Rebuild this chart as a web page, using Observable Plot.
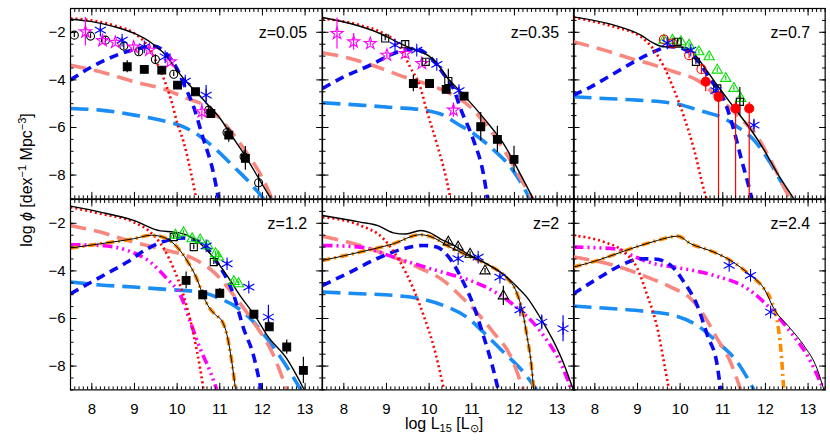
<!DOCTYPE html>
<html><head><meta charset="utf-8">
<script src="https://cdn.jsdelivr.net/npm/d3@7"></script>
<script src="https://cdn.jsdelivr.net/npm/@observablehq/plot@0.6"></script>
<style>
body{margin:0;background:#fff;font-family:"Liberation Sans",Arial,sans-serif;}
#chart{position:relative;width:830px;height:443px;overflow:hidden;background:#fff;}
#chart svg{position:absolute;overflow:visible;}
.title{position:absolute;font-size:16px;white-space:nowrap;color:#000;}
.title sub{font-size:11px;vertical-align:-3px;}
.title sup{font-size:11px;vertical-align:6px;}
</style></head><body><div id="chart"></div>
<script>
// ---------- labels / ticks ----------
const LABELS = ["z=0.05", "z=0.35", "z=0.7", "z=1.2", "z=2", "z=2.4"];
const X_TICKS = [8, 9, 10, 11, 12, 13];
const Y_TICKS = [-8, -6, -4, -2];
const X_DOMAIN = [7.5, 13.4];
const Y_DOMAIN = [-9, -1];

// ---------- z = 0.05 ----------
const tot_z005 = [[7.5,-1.45],[8.0,-1.55],[8.5,-1.75],[9.0,-2.05],[9.4,-2.45],[9.7,-2.9],[10.0,-3.6],[10.2,-4.05],[10.5,-4.6],[10.7,-5.0],[11.0,-5.6],[11.3,-6.4],[11.6,-7.2],[11.9,-8.1],[12.2,-9.0]];
const red_z005 = [[7.5,-1.42],[8.0,-1.5],[8.5,-1.7],[9.0,-2.05],[9.3,-2.55],[9.5,-3.2],[9.75,-4.25],[9.9,-5.1],[10.0,-5.8],[10.15,-6.6],[10.3,-7.7],[10.45,-9.0]];
const blue_z005 = [[7.5,-4.0],[8.0,-3.45],[8.6,-2.95],[9.1,-2.68],[9.45,-2.58],[9.75,-2.9],[10.0,-3.55],[10.15,-4.15],[10.4,-5.2],[10.6,-6.4],[10.85,-7.9],[10.97,-9.0]];
const sal_z005 = [[7.5,-3.38],[8.2,-3.66],[9.0,-4.08],[9.76,-4.43],[10.23,-4.78],[10.7,-5.13],[11.17,-5.97],[11.64,-7.09],[12.1,-8.49],[12.22,-9.0]];
const lb_z005 = [[7.5,-5.2],[8.2,-5.27],[9.0,-5.48],[9.6,-5.69],[10.15,-5.97],[10.55,-6.39],[10.93,-6.95],[11.33,-7.65],[11.72,-8.35],[12.03,-9.0]];
const oc_z005 = [[7.59,-2.12,0.1],[7.97,-2.16,0.1],[8.32,-2.33,0.12],[8.75,-2.58,0.15],[9.1,-2.82,0.15],[9.49,-3.14,0.2],[9.92,-3.76,0.1],[10.74,-5.27,0.15],[11.17,-6.21,0.2],[11.57,-7.23,0.25],[11.91,-8.32,0.35]];
const st_z005 = [[7.85,-1.98,0.6],[8.25,-2.35,0.15],[8.55,-2.42,0.1],[8.98,-2.62,0.1],[9.35,-2.75,0.1],[9.84,-3.24,0.1],[10.58,-5.34,0.35]];
const as_z005 = [[8.2,-1.91,0.1],[8.71,-2.33,0.1],[9.23,-2.61,0.1],[9.72,-3.03,0.1],[10.19,-4.05,0.15],[10.68,-4.64,0.4]];
const sq_z005 = [[8.83,-3.45,0.25],[9.23,-3.56,0.15],[9.64,-3.59,0.15],[10.01,-4.22,0.12],[10.43,-4.5,0.12],[10.79,-5.41,0.2],[11.21,-6.32,0.3],[11.6,-7.3,0.5]];

// ---------- z = 0.35 ----------
const tot_z035 = [[7.5,-1.38],[8.15,-1.63],[8.85,-2.05],[9.24,-2.4],[9.63,-2.72],[10.0,-3.0],[10.2,-3.35],[10.41,-3.87],[10.8,-4.62],[11.3,-5.65],[11.74,-6.67],[12.13,-7.93],[12.44,-9.0]];
const red_z035 = [[7.5,-1.42],[8.38,-1.7],[8.93,-2.05],[9.32,-2.61],[9.55,-3.45],[9.79,-4.29],[9.94,-5.27],[10.18,-6.67],[10.41,-8.21],[10.5,-9.0]];
const blue_z035 = [[7.5,-4.36],[8.0,-3.87],[8.62,-3.38],[9.08,-2.96],[9.4,-2.75],[9.7,-2.7],[10.0,-3.0],[10.33,-3.73],[10.6,-4.5],[10.72,-5.13],[11.04,-6.53],[11.27,-7.93],[11.37,-9.0]];
const sal_z035 = [[7.5,-2.86],[8.15,-3.1],[8.77,-3.45],[9.4,-3.87],[10.02,-4.22],[10.49,-4.57],[10.96,-5.13],[11.43,-6.11],[11.9,-7.37],[12.21,-8.35],[12.43,-9.0]];
const lb_z035 = [[7.5,-4.96],[8.38,-5.06],[9.16,-5.16],[9.87,-5.27],[10.33,-5.48],[10.65,-5.83],[11.04,-6.25],[11.43,-6.81],[11.9,-7.65],[12.21,-8.49],[12.36,-9.0]];
const st_z035 = [[7.84,-2.05,0.65],[8.23,-2.4,0.35],[8.62,-2.47,0.1],[9.01,-2.96,0.1],[9.44,-2.89,0.1],[9.83,-3.31,0.1],[10.57,-5.27,0.3]];
const osq_z035 = [[8.97,-2.26,0.1],[9.44,-2.5,0.1],[9.92,-3.24,0.1],[10.45,-4.05,0.5]];
const as_z035 = [[9.2,-2.54,0.1],[9.71,-2.75,0.1],[10.18,-3.35,0.1],[10.7,-4.45,0.15]];
const sq_z035 = [[9.63,-4.15,0.35],[10.01,-4.15,0.15],[10.4,-4.4,0.15],[10.82,-4.68,0.1],[11.21,-5.97,0.6],[11.6,-6.5,0.55],[11.99,-7.34,0.55]];

// ---------- z = 0.7 ----------
const tot_z07 = [[7.5,-1.35],[8.45,-1.7],[9.08,-2.12],[9.39,-2.47],[9.62,-2.61],[10.01,-2.62],[10.3,-2.85],[10.6,-3.55],[10.9,-4.3],[11.28,-5.2],[11.7,-6.2],[11.97,-6.95],[12.28,-7.93],[12.67,-9.0]];
const red_z07 = [[7.5,-1.38],[8.45,-1.77],[9.08,-2.19],[9.39,-2.75],[9.62,-3.45],[9.86,-4.43],[10.09,-5.55],[10.33,-6.95],[10.56,-8.63],[10.62,-9.0]];
const blue_z07 = [[7.5,-4.64],[7.91,-4.29],[8.45,-3.73],[8.99,-3.17],[9.47,-2.75],[9.7,-2.6],[10.01,-2.65],[10.4,-3.17],[10.72,-4.01],[11.03,-4.85],[11.26,-6.11],[11.42,-7.23],[11.65,-8.77],[11.68,-9.0]];
const sal_z07 = [[7.5,-2.4],[8.22,-2.75],[8.84,-3.1],[9.39,-3.38],[9.86,-3.66],[10.4,-4.01],[10.87,-4.71],[11.34,-5.48],[11.81,-6.39],[12.2,-7.65],[12.51,-8.77],[12.58,-9.0]];
const lb_z07 = [[7.5,-4.71],[8.22,-4.78],[8.99,-4.85],[9.86,-4.99],[10.56,-5.34],[10.95,-5.55],[11.34,-5.97],[11.73,-6.53],[12.12,-7.51],[12.43,-8.49],[12.59,-9.0]];
const gt_z07 = [[9.62,-2.33,0.1],[9.82,-2.33,0.1],[10.02,-2.4,0.1],[10.21,-2.54,0.1],[10.44,-2.82,0.1],[10.68,-3.03,0.1],[10.87,-3.59,0.1],[11.07,-3.94,0.1],[11.26,-4.36,0.1],[11.42,-4.78,0.1]];
const roc_z07 = [[9.62,-2.3,0.1],[9.82,-2.47,0.1],[10.21,-2.96,0.15],[10.5,-3.55,0.2]];
const rfc_z07 = [[10.6,-4.08,-4.5,-3.8],[10.9,-4.72,-9.5,-4.45],[11.3,-5.2,-9.5,-4.95],[11.62,-5.2,-9.5,-4.95]];
const osq_z07 = [[9.94,-2.4,0.1],[10.37,-3.24,0.1],[10.87,-4.36,0.1],[11.4,-4.92,0.6]];
const as_z07 = [[9.7,-2.45,0.1],[10.25,-2.75,0.1],[10.84,-4.45,0.15],[11.73,-5.9,0.2]];

// ---------- z = 1.2 ----------
const tot_z12 = [[7.5,-1.28],[8.2,-1.53],[8.98,-1.88],[9.61,-2.32],[9.92,-2.37],[10.23,-2.5],[10.54,-2.85],[10.86,-3.45],[11.17,-4.2],[11.5,-5.1],[11.85,-5.95],[12.11,-6.71],[12.57,-7.69],[12.98,-9.0]];
const red_z12 = [[7.5,-1.32],[8.2,-1.6],[8.98,-1.95],[9.37,-2.37],[9.69,-3.07],[9.92,-3.91],[10.15,-5.03],[10.39,-6.71],[10.54,-8.11],[10.62,-9.0]];
const sal_z12 = [[7.5,-2.09],[8.2,-2.37],[8.98,-2.79],[9.76,-3.14],[10.39,-3.49],[10.86,-4.05],[11.33,-5.03],[11.79,-6.15],[12.26,-7.55],[12.57,-9.0]];
const blue_z12 = [[7.5,-4.96],[8.2,-4.26],[8.83,-3.63],[9.3,-3.07],[9.76,-2.72],[10.15,-2.62],[10.54,-2.79],[10.93,-3.63],[11.33,-5.03],[11.56,-6.43],[11.79,-7.55],[11.97,-9.0]];
const lb_z12 = [[7.5,-4.47],[8.2,-4.59],[8.98,-4.68],[9.76,-4.78],[10.54,-4.89],[11.01,-5.17],[11.33,-5.45],[11.72,-6.01],[12.11,-6.85],[12.5,-7.83],[12.9,-9.0]];
const mag_z12 = [[7.5,-2.9],[8.2,-2.93],[8.83,-3.14],[9.37,-3.63],[9.76,-4.33],[10.08,-5.03],[10.31,-6.15],[10.54,-7.27],[10.78,-8.25],[10.93,-9.0]];
const org_z12 = [[7.5,-3.04],[8.2,-2.86],[8.98,-2.65],[9.4,-2.5],[9.7,-2.6],[10.0,-3.0],[10.23,-3.56],[10.5,-4.5],[10.6,-5.0],[10.72,-5.45],[10.9,-5.85],[11.05,-6.1],[11.17,-6.7],[11.28,-7.8],[11.37,-9.0]];
const gt_z12 = [[9.96,-2.5,0.1],[10.15,-2.4,0.1],[10.35,-2.65,0.1],[10.54,-2.7,0.1],[10.72,-2.95,0.1],[10.9,-3.28,0.1],[10.97,-3.42,0.1],[11.33,-4.45,0.1],[11.44,-4.54,0.1]];
const osq_z12 = [[9.92,-2.58,0.1],[10.39,-3.0,0.1],[10.86,-3.63,0.1]];
const as_z12 = [[10.68,-2.95,0.1],[11.17,-3.7,0.1],[11.68,-4.68,0.1],[12.14,-5.94,0.5]];
const sq_z12 = [[10.21,-4.4,0.35],[10.6,-5.0,0.2],[11.0,-4.94,0.2],[11.8,-5.82,0.15],[12.16,-6.35,0.2],[12.57,-7.2,0.3],[12.96,-8.18,0.55]];

// ---------- z = 2 ----------
const tot_z2 = [[7.5,-1.67],[8.38,-1.95],[8.8,-2.1],[9.16,-2.4],[9.45,-2.45],[9.8,-2.3],[10.0,-2.38],[10.26,-2.65],[10.6,-2.95],[10.96,-3.35],[11.35,-3.7],[11.82,-4.26],[12.05,-4.65],[12.29,-5.1],[12.6,-5.95],[12.9,-6.9],[13.14,-7.83],[13.38,-9.0]];
const red_z2 = [[7.5,-1.74],[8.38,-2.09],[8.93,-2.65],[9.32,-3.63],[9.63,-4.75],[9.87,-5.87],[10.1,-7.13],[10.35,-9.0]];
const org_z2 = [[7.5,-3.56],[8.38,-3.21],[9.16,-2.86],[9.79,-2.48],[10.02,-2.55],[10.49,-3.0],[10.96,-3.4],[11.35,-3.72],[11.82,-4.3],[12.05,-4.9],[12.2,-5.8],[12.3,-6.8],[12.4,-8.0],[12.45,-9.0]];
const mag_z2 = [[7.5,-2.93],[8.38,-3.0],[9.16,-3.42],[9.9,-3.84],[10.5,-4.15],[10.96,-4.4],[11.35,-4.7],[11.74,-5.1],[12.13,-5.66],[12.4,-6.1],[12.68,-6.71],[13.07,-7.83],[13.34,-9.0]];
const sal_z2 = [[7.5,-2.54],[8.38,-2.93],[9.16,-3.42],[9.8,-3.9],[10.33,-4.4],[10.72,-5.03],[11.11,-5.73],[11.5,-6.57],[11.9,-7.55],[12.21,-9.0]];
const blue_z2 = [[7.5,-4.61],[8.15,-4.05],[8.77,-3.49],[9.4,-3.07],[9.87,-2.93],[10.18,-3.0],[10.49,-3.49],[10.8,-4.47],[11.04,-5.45],[11.27,-6.71],[11.5,-8.11],[11.62,-9.0]];
const lb_z2 = [[7.5,-4.89],[8.38,-4.96],[9.16,-5.03],[9.79,-5.17],[10.33,-5.45],[10.88,-5.94],[11.27,-6.57],[11.74,-7.41],[12.21,-8.25],[12.52,-9.0]];
const bt_z2 = [[10.45,-2.79,0.1],[10.68,-3.0,0.1],[10.96,-3.3,0.1],[11.31,-4.0,0.1],[11.74,-5.05,0.4]];
const as_z2 = [[10.68,-3.49,0.1],[11.15,-3.42,0.1],[11.66,-4.26,0.1],[12.13,-5.64,0.15],[12.64,-6.15,0.3],[13.14,-6.43,0.55]];

// ---------- z = 2.4 ----------
const agn_z24 = [[7.5,-3.84],[8.06,-3.56],[8.84,-3.07],[9.47,-2.72],[9.94,-2.54],[10.25,-2.86],[10.79,-3.21],[11.18,-3.56],[11.65,-4.19],[11.97,-4.75],[12.2,-5.59],[12.59,-6.43],[12.9,-7.13],[13.21,-8.11],[13.37,-9.0]];
const org_z24 = [[7.5,-3.84],[8.06,-3.56],[8.84,-3.07],[9.47,-2.72],[9.94,-2.54],[10.25,-2.86],[10.79,-3.21],[11.18,-3.56],[11.65,-4.19],[11.97,-4.75],[12.15,-5.3],[12.28,-6.15],[12.36,-7.27],[12.43,-9.0]];
const mag_z24 = [[7.5,-3.0],[8.45,-3.07],[9.0,-3.45],[9.4,-3.7],[9.86,-3.84],[10.79,-4.19],[11.58,-4.75],[12.12,-5.59],[12.59,-6.57],[12.98,-7.55],[13.37,-9.0]];
const red_z24 = [[7.5,-2.51],[8.22,-2.79],[8.69,-3.21],[9.0,-3.91],[9.23,-5.03],[9.47,-6.43],[9.62,-7.83],[9.74,-9.0]];
const sal_z24 = [[7.5,-3.42],[8.45,-3.77],[9.23,-4.26],[9.78,-4.68],[10.25,-5.17],[10.56,-5.87],[10.87,-6.85],[11.18,-7.83],[11.42,-9.0]];
const blue_z24 = [[7.5,-4.96],[8.06,-4.33],[8.61,-3.77],[9.08,-3.49],[9.4,-3.5],[9.78,-3.77],[10.09,-4.47],[10.4,-5.45],[10.64,-6.71],[10.87,-7.97],[10.95,-9.0]];
const lb_z24 = [[7.5,-5.48],[8.45,-5.59],[9.23,-5.71],[9.86,-5.87],[10.4,-6.29],[10.87,-6.99],[11.34,-7.83],[11.73,-9.0]];
const as_z24 = [[11.15,-3.77,0.05],[11.65,-4.19,0.05],[12.12,-5.73,0.15]];

// ---------- styles ----------
const LINE = {
  tot:  {stroke: "#000", strokeWidth: 1.4},
  thin: {stroke: "#000", strokeWidth: 1},
  red:  {stroke: "#ff0000", strokeWidth: 2.6, strokeDasharray: "2,3"},
  blue: {stroke: "#0a0af5", strokeWidth: 3.6, strokeDasharray: "9,6"},
  sal:  {stroke: "#f7877f", strokeWidth: 3.6, strokeDasharray: "16,8"},
  lb:   {stroke: "#1a8cf5", strokeWidth: 3.6, strokeDasharray: "18,8"},
  mag:  {stroke: "#ff00ff", strokeWidth: 3.6, strokeDasharray: "10,4,2,4,2,4,2,4"},
  org:  {stroke: "#ff8c00", strokeWidth: 3.6, strokeDasharray: "8,4,2,4"}
};
const MARK = {
  sq:  {symbol: "square", r: 4.4, fill: "#000", stroke: "#000"},
  osq: {symbol: "square", r: 4, fill: "none", stroke: "#000"},
  oc:  {symbol: "circle", r: 4, fill: "none", stroke: "#000"},
  st:  {symbol: "star", r: 3.8, fill: "none", stroke: "#ff00ff"},
  as:  {symbol: "asterisk", r: 6, fill: "none", stroke: "#0000ff"},
  gt:  {symbol: "triangle", r: 3.8, fill: "none", stroke: "#00e000"},
  bt:  {symbol: "triangle", r: 3.8, fill: "none", stroke: "#000"},
  roc: {symbol: "circle", r: 4.5, fill: "none", stroke: "#ff0000"},
  rfc: {symbol: "circle", r: 4.5, fill: "#ff0000", stroke: "#ff0000"}
};

const PANELS = [
  {lines: [["lb", lb_z005], ["sal", sal_z005], ["blue", blue_z005], ["red", red_z005], ["tot", tot_z005]],
   pts: [["oc", oc_z005], ["st", st_z005], ["as", as_z005], ["sq", sq_z005]]},
  {lines: [["lb", lb_z035], ["sal", sal_z035], ["blue", blue_z035], ["red", red_z035], ["tot", tot_z035]],
   pts: [["st", st_z035], ["osq", osq_z035], ["as", as_z035], ["sq", sq_z035]]},
  {lines: [["lb", lb_z07], ["sal", sal_z07], ["blue", blue_z07], ["red", red_z07], ["tot", tot_z07]],
   pts: [["gt", gt_z07], ["roc", roc_z07], ["osq", osq_z07], ["as", as_z07], ["rfc", rfc_z07]]},
  {lines: [["lb", lb_z12], ["sal", sal_z12], ["mag", mag_z12], ["blue", blue_z12], ["red", red_z12], ["org", org_z12], ["thin", org_z12], ["tot", tot_z12]],
   pts: [["osq", osq_z12], ["gt", gt_z12], ["as", as_z12], ["sq", sq_z12]]},
  {lines: [["lb", lb_z2], ["sal", sal_z2], ["mag", mag_z2], ["blue", blue_z2], ["red", red_z2], ["org", org_z2], ["thin", org_z2], ["tot", tot_z2]],
   pts: [["bt", bt_z2], ["as", as_z2]]},
  {lines: [["lb", lb_z24], ["sal", sal_z24], ["mag", mag_z24], ["blue", blue_z24], ["red", red_z24], ["org", org_z24], ["thin", agn_z24]],
   pts: [["as", as_z24]]}
];

const X_MINOR = d3.range(75, 135).map(v => v / 10);
const Y_MINOR = d3.range(-18, -1).map(v => v / 2);

const chart = document.getElementById("chart");
const W = 251.67, H = 190.4, L0 = 70, T0 = 8.3;
const M = {l: 45, r: 12, t: 12, b: 45};

function axes(row, col) {
  const m = [];
  const ts = {stroke: "#000", strokeWidth: 1, fill: "none", label: null, tickFormat: () => ""};
  for (const anchor of ["bottom", "top"]) {
    m.push(Plot.axisX(X_MINOR, {anchor, tickSize: -3, ...ts}));
    m.push(Plot.axisX(X_TICKS, {anchor, tickSize: -6.5, ...ts}));
  }
  for (const anchor of ["left", "right"]) {
    m.push(Plot.axisY(Y_MINOR, {anchor, tickSize: -3.5, ...ts}));
    m.push(Plot.axisY(Y_TICKS, {anchor, tickSize: -6.5, ...ts}));
  }
  if (row === 1) m.push(Plot.axisX(X_TICKS, {anchor: "bottom", tickSize: 0, tickPadding: 13, label: null, fontSize: 15}));
  if (col === 0) m.push(Plot.axisY(Y_TICKS, {anchor: "left", tickSize: 0, tickPadding: 5, label: null, fontSize: 15}));
  return m;
}

PANELS.forEach((p, i) => {
  const row = Math.floor(i / 3), col = i % 3;
  const marks = [];
  for (const [k, data] of p.lines) {
    marks.push(Plot.line(data, {x: d => d[0], y: d => d[1], curve: "monotone-x", clip: true, strokeLinecap: "butt", ...LINE[k]}));
  }
  for (const [k, data] of p.pts) {
    const s = MARK[k];
    marks.push(Plot.ruleX(data, {
      x: d => d[0],
      y1: d => d.length > 3 ? d[2] : d[1] - d[2],
      y2: d => d.length > 3 ? d[3] : d[1] + d[2],
      stroke: s.stroke, strokeWidth: 1.2, clip: true
    }));
    marks.push(Plot.dot(data, {x: d => d[0], y: d => d[1], symbol: s.symbol, r: s.r, fill: s.fill, stroke: s.stroke, strokeWidth: 1.1, clip: true}));
  }
  marks.push(Plot.frame({stroke: "#000", strokeWidth: 1.2}));
  marks.push(...axes(row, col));
  marks.push(Plot.text([LABELS[i]], {text: d => d, frameAnchor: "top-right", textAnchor: "end", lineAnchor: "middle", dx: -15, dy: 24, fontSize: 16, fill: "#000"}));
  const svg = Plot.plot({
    width: W + M.l + M.r, height: H + M.t + M.b,
    marginLeft: M.l, marginRight: M.r, marginTop: M.t, marginBottom: M.b,
    x: {domain: X_DOMAIN}, y: {domain: Y_DOMAIN},
    style: {fontFamily: "'Liberation Sans', Arial, sans-serif", fontSize: "15px", background: "transparent", color: "#000", overflow: "visible"},
    marks
  });
  svg.style.left = (L0 + col * W - M.l) + "px";
  svg.style.top = (T0 + row * H - M.t) + "px";
  svg.style.maxWidth = "none";
  chart.appendChild(svg);
});

const xt = document.createElement("div");
xt.className = "title";
xt.innerHTML = "log L<sub>15</sub> [L<sub>⊙</sub>]";
xt.style.left = "444px"; xt.style.top = "425px"; xt.style.transform = "translate(-50%,-50%)";
chart.appendChild(xt);
const yt = document.createElement("div");
yt.className = "title";
yt.innerHTML = "log <i>ϕ</i> [dex<sup>−1</sup> Mpc<sup>−3</sup>]";
yt.style.left = "26px"; yt.style.top = "180px"; yt.style.transform = "translate(-50%,-50%) rotate(-90deg)";
chart.appendChild(yt);
</script></body></html>
